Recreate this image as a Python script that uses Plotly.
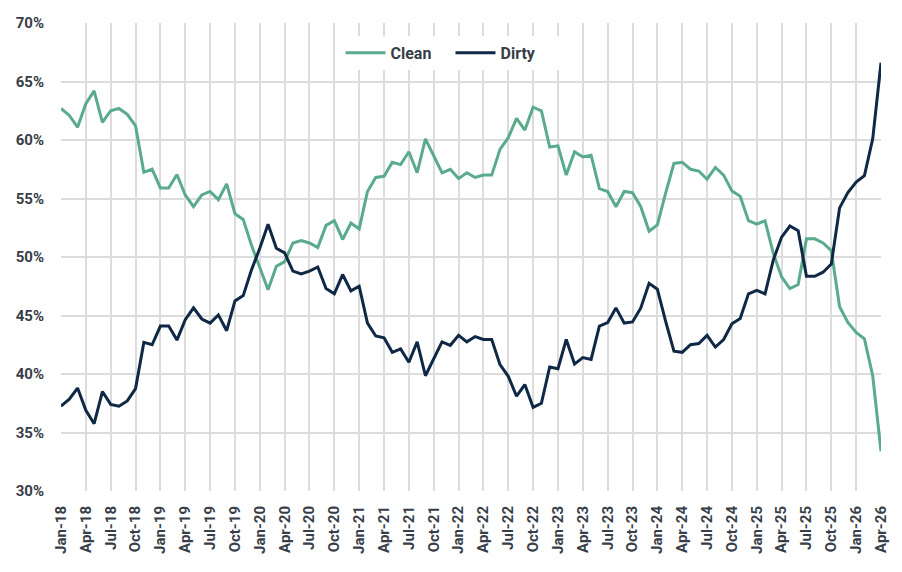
import plotly.graph_objects as go

months = ["Jan", "Feb", "Mar", "Apr", "May", "Jun", "Jul", "Aug", "Sep", "Oct", "Nov", "Dec"]
labels = [f"{m}-{y:02d}" for y in range(18, 27) for m in months][:100]

clean = [
    62.7, 62.1, 61.1, 63.1, 64.2, 61.5, 62.5, 62.7, 62.2, 61.2, 57.25, 57.5,
    55.9, 55.9, 57.05, 55.3, 54.3, 55.3, 55.6, 54.9, 56.25, 53.7, 53.2, 51.0,
    49.1, 47.2, 49.2, 49.6, 51.2, 51.4, 51.2, 50.8, 52.7, 53.1, 51.5, 52.9,
    52.4, 55.6, 56.8, 56.9, 58.1, 57.9, 59.0, 57.2, 60.1, 58.7, 57.2, 57.5,
    56.7, 57.2, 56.8, 57.0, 57.0, 59.2, 60.2, 61.85, 60.85, 62.8, 62.5, 59.4,
    59.5, 57.0, 59.0, 58.55, 58.7, 55.85, 55.6, 54.3, 55.6, 55.5, 54.3, 52.2,
    52.75, 55.45, 58.0, 58.1, 57.5, 57.35, 56.65, 57.65, 57.0, 55.65, 55.2, 53.1,
    52.8, 53.1, 50.3, 48.3, 47.3, 47.65, 51.55, 51.55, 51.2, 50.55, 45.75, 44.4,
    43.55, 43.0, 39.85, 33.4,
]

dirty = [
    37.25, 37.85, 38.8, 36.9, 35.75, 38.5, 37.4, 37.25, 37.7, 38.75, 42.7, 42.5,
    44.1, 44.1, 42.9, 44.65, 45.65, 44.7, 44.35, 45.05, 43.7, 46.25, 46.7, 48.9,
    50.75, 52.8, 50.75, 50.35, 48.8, 48.55, 48.8, 49.15, 47.3, 46.85, 48.5, 47.1,
    47.5, 44.35, 43.25, 43.1, 41.85, 42.15, 41.0, 42.75, 39.85, 41.3, 42.75, 42.45,
    43.3, 42.75, 43.2, 42.95, 42.95, 40.8, 39.8, 38.1, 39.1, 37.15, 37.5, 40.6,
    40.45, 42.95, 40.85, 41.4, 41.25, 44.1, 44.4, 45.65, 44.35, 44.45, 45.65, 47.75,
    47.25, 44.5, 41.95, 41.85, 42.5, 42.6, 43.3, 42.3, 42.95, 44.3, 44.75, 46.85,
    47.15, 46.85, 49.75, 51.7, 52.65, 52.25, 48.35, 48.35, 48.7, 49.4, 54.2, 55.5,
    56.4, 56.95, 60.1, 66.6,
]

y_ticks = [30, 35, 40, 45, 50, 55, 60, 65, 70]

clean_color = "#5AAB8C"
dirty_color = "#0E2846"
text_color = "#383E48"
grid_color = "#DCDCDC"

fig = go.Figure()
fig.add_trace(go.Scatter(x=labels, y=clean, mode="lines", name="Clean",
                         line=dict(color=clean_color, width=3)))
fig.add_trace(go.Scatter(x=labels, y=dirty, mode="lines", name="Dirty",
                         line=dict(color=dirty_color, width=3)))

fig.update_layout(
    width=902, height=572,
    margin=dict(l=61, r=19, t=23, b=81),
    paper_bgcolor="white", plot_bgcolor="white",
    font=dict(family="Roboto", color=text_color, weight="bold"),
    showlegend=True,
    legend=dict(orientation="h", x=0.475, xanchor="center", y=0.936, yanchor="middle",
                bgcolor="white", font=dict(size=16, family="Roboto", color=text_color, weight="bold"),
                itemwidth=40, entrywidthmode="pixels", entrywidth=55),
)
fig.update_xaxes(
    type="category", range=[0, 99],
    tickmode="array", tickvals=labels[::3], ticktext=labels[::3],
    tickangle=-90, tickfont=dict(size=15, family="Roboto", color=text_color, weight="bold"),
    showgrid=True, gridcolor=grid_color, gridwidth=1.5,
    ticks="outside", ticklen=8, tickcolor="rgba(0,0,0,0)",
    showline=False, zeroline=False,
)
fig.update_yaxes(
    range=[30, 70], tickmode="array", tickvals=y_ticks,
    ticktext=[f"{v}%" for v in y_ticks],
    tickfont=dict(size=15, family="Roboto", color=text_color, weight="bold"),
    showgrid=True, gridcolor=grid_color, gridwidth=1.5,
    ticks="outside", ticklen=13, tickcolor="rgba(0,0,0,0)",
    showline=False, zeroline=False,
)

fig.write_html("out.html")
